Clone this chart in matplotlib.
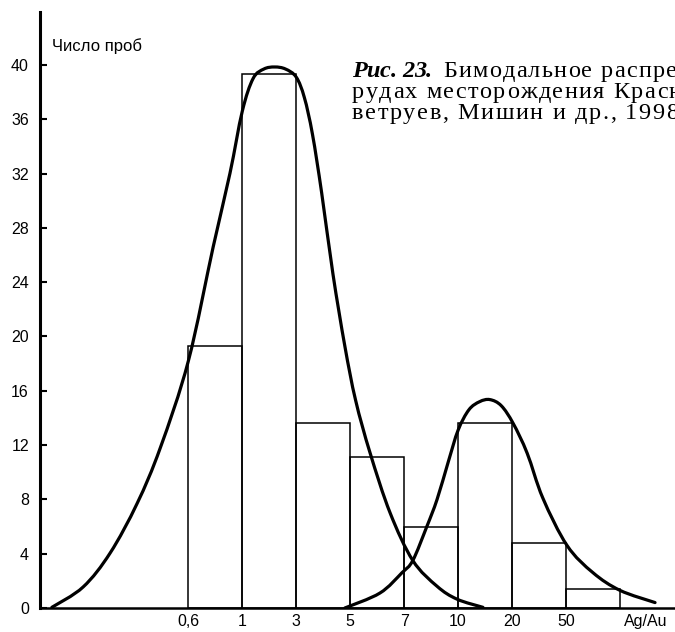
import matplotlib.pyplot as plt
import numpy as np
from matplotlib.path import Path
from matplotlib.patches import PathPatch
from matplotlib.font_manager import FontProperties, findfont, get_font

plt.rcParams['font.family'] = ['Liberation Sans', 'DejaVu Sans']

# гистограмма Ag/Au: подписи границ классов и число проб в классе
bin_labels = ['0,6', '1', '3', '5', '7', '10', '20', '50']
counts = [19.3, 39.3, 13.6, 11.1, 6.0, 13.6, 4.8, 1.4]
y_ticks = [0, 4, 8, 12, 16, 20, 24, 28, 32, 36, 40]

# огибающие двух мод (x - в долях класса от границы 0,6)
curve1_x = [-2.53, -1.95, -1.45, -0.95, -0.52, 0.0, 0.46, 0.77, 1.0, 1.2,
            1.4, 1.6, 1.8, 2.0, 2.15, 2.3, 2.47, 2.68, 2.9, 3.1, 3.37,
            3.74, 4.16, 4.61, 4.98, 5.46]
curve1_y = [0.05, 1.55, 4.05, 7.7, 11.8, 18.2, 26.6, 32.0, 36.6, 39.0,
            39.7, 39.85, 39.7, 39.1, 37.6, 34.9, 30.6, 24.6, 19.3, 15.3, 11.4,
            7.0, 3.5, 1.6, 0.65, 0.05]

curve2_x = [2.9, 3.55, 3.96, 4.16, 4.42, 4.61, 4.82, 5.0, 5.2, 5.4, 5.59,
            5.8, 6.02, 6.28, 6.57, 7.02, 7.5, 8.0, 8.65]
curve2_y = [0.0, 1.1, 2.6, 3.5, 6.0, 8.0, 10.8, 13.1, 14.6, 15.2, 15.35,
            14.9, 13.6, 11.4, 8.1, 4.6, 2.6, 1.3, 0.4]

caption = ['Бимодальное распре',
           'рудах месторождения Красн',
           'ветруев, Мишин и др., 1998']


def smooth_path(xs, ys):
    # кривая Безье через точки (Catmull-Rom)
    p = np.column_stack([xs, ys])
    verts = [p[0]]
    codes = [Path.MOVETO]
    for i in range(len(p) - 1):
        p0 = p[i - 1] if i > 0 else p[i]
        p3 = p[i + 2] if i + 2 < len(p) else p[i + 1]
        verts += [p[i] + (p[i + 1] - p0) / 6, p[i + 1] - (p3 - p[i]) / 6, p[i + 1]]
        codes += [Path.CURVE4] * 3
    return Path(verts, codes)


W, H = 675, 632
fig = plt.figure(figsize=(W / 100, H / 100), dpi=100)
ax = fig.add_axes([40 / W, 24 / H, 635 / W, 596 / H])

pos = np.arange(len(counts))
ax.bar(pos, counts, width=1, align='edge', fill=False,
       edgecolor='black', linewidth=1.1)
for cx, cy in [(curve1_x, curve1_y), (curve2_x, curve2_y)]:
    ax.add_patch(PathPatch(smooth_path(cx, cy), fill=False, edgecolor='black',
                           lw=2.3, capstyle='round', joinstyle='round'))

ax.set_xlim(-2.75, 9.02)
ax.set_ylim(0, 43.9)
ax.spines['top'].set_visible(False)
ax.spines['right'].set_visible(False)
ax.spines['left'].set_linewidth(2.2)
ax.spines['bottom'].set_linewidth(1.8)

ax.set_yticks(y_ticks)
ax.tick_params(axis='y', direction='in', length=5, width=1.5, pad=8, labelsize=11.5)
ax.set_xticks(list(pos) + [8.48])
ax.set_xticklabels(bin_labels + ['Ag/Au'])
ax.tick_params(axis='x', length=0, pad=4, labelsize=11.5)

fig.text(52 / W, 1 - 51 / H, 'Число проб', fontsize=12, va='baseline')


# подпись набрана с разрядкой: буквы ставим по одной
def advances(s, prop):
    font = get_font(findfont(prop))
    font.set_size(prop.get_size_in_points(), 100)
    return [font.load_char(ord(c)).linearHoriAdvance / 65536 for c in s]


def tracking(s, prop, width):
    # шаг разрядки, чтобы последняя буква встала на width от начала
    return (width - sum(advances(s[:-1], prop))) / (len(s) - 1)


def spaced_text(x, y, s, prop, track):
    for c, a in zip(s, advances(s, prop)):
        if c != ' ':
            fig.text(x / W, 1 - y / H, c, fontproperties=prop, va='baseline')
        x += a + track


bold = FontProperties(family='Liberation Serif', size=17.5,
                      weight='bold', style='italic')
regular = FontProperties(family='Liberation Serif', size=17.5)

spaced_text(352, 77, 'Рис. 23.', bold, tracking('Рис. 23.', bold, 426 - 352))
spaced_text(443, 77, caption[0], regular, tracking(caption[0], regular, 666 - 443))
spaced_text(352, 98, caption[1], regular, tracking(caption[1], regular, 669 - 352))
spaced_text(352, 119, caption[2], regular, tracking(caption[2], regular, 666 - 352))

fig.savefig('out.png', dpi=100)
